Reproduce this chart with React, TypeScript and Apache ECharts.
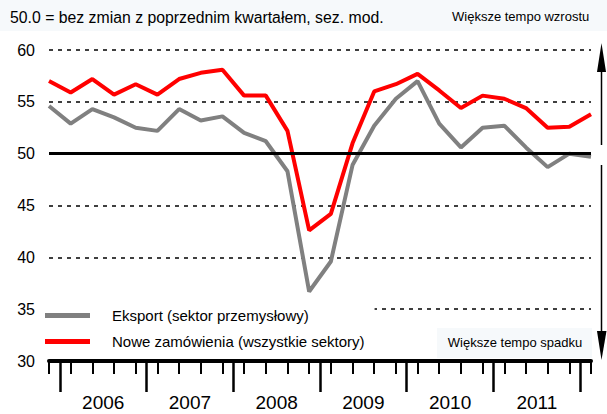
import React, { useEffect, useRef } from 'react';
import * as echarts from 'echarts';

const quarters = [
  '2005 Q4',
  '2006 Q1', '2006 Q2', '2006 Q3', '2006 Q4',
  '2007 Q1', '2007 Q2', '2007 Q3', '2007 Q4',
  '2008 Q1', '2008 Q2', '2008 Q3', '2008 Q4',
  '2009 Q1', '2009 Q2', '2009 Q3', '2009 Q4',
  '2010 Q1', '2010 Q2', '2010 Q3', '2010 Q4',
  '2011 Q1', '2011 Q2', '2011 Q3', '2011 Q4',
  '2012 Q1',
];
const eksport = [54.6, 52.9, 54.3, 53.5, 52.5, 52.2, 54.3, 53.2, 53.6, 52.0, 51.2, 48.3, 36.7, 39.6, 48.9, 52.7, 55.3, 57.0, 52.9, 50.6, 52.5, 52.7, 50.6, 48.7, 50.0, 49.7];
const noweZamowienia = [57.0, 55.9, 57.2, 55.7, 56.7, 55.7, 57.2, 57.8, 58.1, 55.6, 55.6, 52.2, 42.6, 44.2, 51.0, 56.0, 56.7, 57.7, 56.1, 54.4, 55.6, 55.3, 54.4, 52.5, 52.6, 53.8];
const years = ['2006', '2007', '2008', '2009', '2010', '2011'];
const yTicks = [30, 35, 40, 45, 50, 55, 60];

const SANS = '"Liberation Sans", Arial, sans-serif';

export default function App() {
  const ref = useRef<HTMLDivElement>(null);
  useEffect(() => {
    if (!ref.current) return;
    const chart = echarts.init(ref.current, undefined, { renderer: 'svg' });
    const yearTicks = years.map((_, i) => 0.5 + 4 * i).concat([0.5 + 4 * years.length]);
    const yearLabels = years.map((_, i) => 2.5 + 4 * i);
    const option: any = {
      animation: false,
      backgroundColor: '#ffffff',
      grid: { left: 49, right: 16, top: 50, bottom: 53, containLabel: false },
      xAxis: [
        {
          type: 'value',
          min: 0,
          max: quarters.length - 1,
          interval: 1,
          position: 'bottom',
          axisLine: { show: true, onZero: false, lineStyle: { color: '#000', width: 4 } },
          axisTick: { show: true, length: 13, lineStyle: { color: '#000', width: 2 } },
          axisLabel: { show: false },
          splitLine: { show: false },
        },
        {
          type: 'value',
          min: 0,
          max: quarters.length - 1,
          position: 'bottom',
          axisLine: { show: false, onZero: false },
          axisTick: { show: true, customValues: yearTicks, length: 31, lineStyle: { color: '#000', width: 2.5 } },
          axisLabel: {
            show: true,
            customValues: yearLabels,
            margin: 32,
            fontSize: 19,
            fontFamily: SANS,
            color: '#000',
            formatter: (v: number) => years[Math.round((v - 2.5) / 4)] ?? '',
          },
          splitLine: { show: false },
        },
      ],
      yAxis: {
        type: 'value',
        min: yTicks[0],
        max: yTicks[yTicks.length - 1],
        interval: 5,
        axisLine: { show: false },
        axisTick: { show: false },
        axisLabel: { fontSize: 16, fontFamily: SANS, color: '#000', margin: 14 },
        splitLine: { show: true, lineStyle: { color: '#000', width: 1.5, type: [4, 5] } },
      },
      legend: {
        orient: 'vertical',
        left: 40,
        top: 300,
        padding: [6, 10, 4, 5],
        backgroundColor: '#ffffff',
        itemWidth: 45,
        itemHeight: 5,
        itemGap: 7,
        icon: 'rect',
        textStyle: { fontSize: 15, fontFamily: SANS, color: '#000', lineHeight: 19, padding: [0, 0, 0, 17] },
        data: ['Eksport (sektor przemysłowy)', 'Nowe zamówienia (wszystkie sektory)'],
      },
      graphic: [
        { type: 'rect', left: 0, top: 0, z: -1, shape: { width: 607, height: 31 }, style: { fill: '#f6f9fb' } },
        { type: 'text', left: 10, top: 9, style: { text: '50.0 = bez zmian z poprzednim kwartałem, sez. mod.', font: `15.8px ${SANS}`, fill: '#000' } },
        { type: 'text', left: 452, top: 10, style: { text: 'Większe tempo wzrostu', font: `13px ${SANS}`, fill: '#000' } },
        { type: 'rect', left: 437, top: 328, z: 10, shape: { width: 155, height: 30 }, style: { fill: '#f6f9fb' } },
        { type: 'text', x: 515, y: 342, z: 11, style: { text: 'Większe tempo spadku', font: `13px ${SANS}`, fill: '#000', align: 'center', verticalAlign: 'middle' } },
        { type: 'line', z: 10, shape: { x1: 601.5, y1: 70, x2: 601.5, y2: 145 }, style: { stroke: '#000', lineWidth: 1.5 } },
        { type: 'polygon', z: 10, shape: { points: [[597, 72], [606, 72], [601.5, 43]] }, style: { fill: '#000' } },
        { type: 'line', z: 10, shape: { x1: 601.5, y1: 165, x2: 601.5, y2: 333 }, style: { stroke: '#000', lineWidth: 1.5 } },
        { type: 'polygon', z: 10, shape: { points: [[597, 331], [606.5, 331], [601.5, 360]] }, style: { fill: '#000' } },
      ],
      series: [
        {
          name: 'ref50',
          type: 'line',
          data: [],
          silent: true,
          markLine: {
            silent: true,
            symbol: ['none', 'none'],
            label: { show: false },
            lineStyle: { color: '#000', width: 3, type: 'solid' },
            data: [{ yAxis: 50 }],
          },
        },
        {
          name: 'Eksport (sektor przemysłowy)',
          type: 'line',
          data: eksport.map((v, i) => [i, v]),
          showSymbol: false,
          symbol: 'none',
          lineStyle: { color: '#808080', width: 4 },
          itemStyle: { color: '#808080' },
          z: 3,
        },
        {
          name: 'Nowe zamówienia (wszystkie sektory)',
          type: 'line',
          data: noweZamowienia.map((v, i) => [i, v]),
          showSymbol: false,
          symbol: 'none',
          lineStyle: { color: '#ff0000', width: 4 },
          itemStyle: { color: '#ff0000' },
          z: 4,
        },
      ],
    };
    chart.setOption(option);
    return () => chart.dispose();
  }, []);
  return <div ref={ref} style={{ position: 'fixed', left: 0, top: 0, width: 607, height: 414 }} />;
}
